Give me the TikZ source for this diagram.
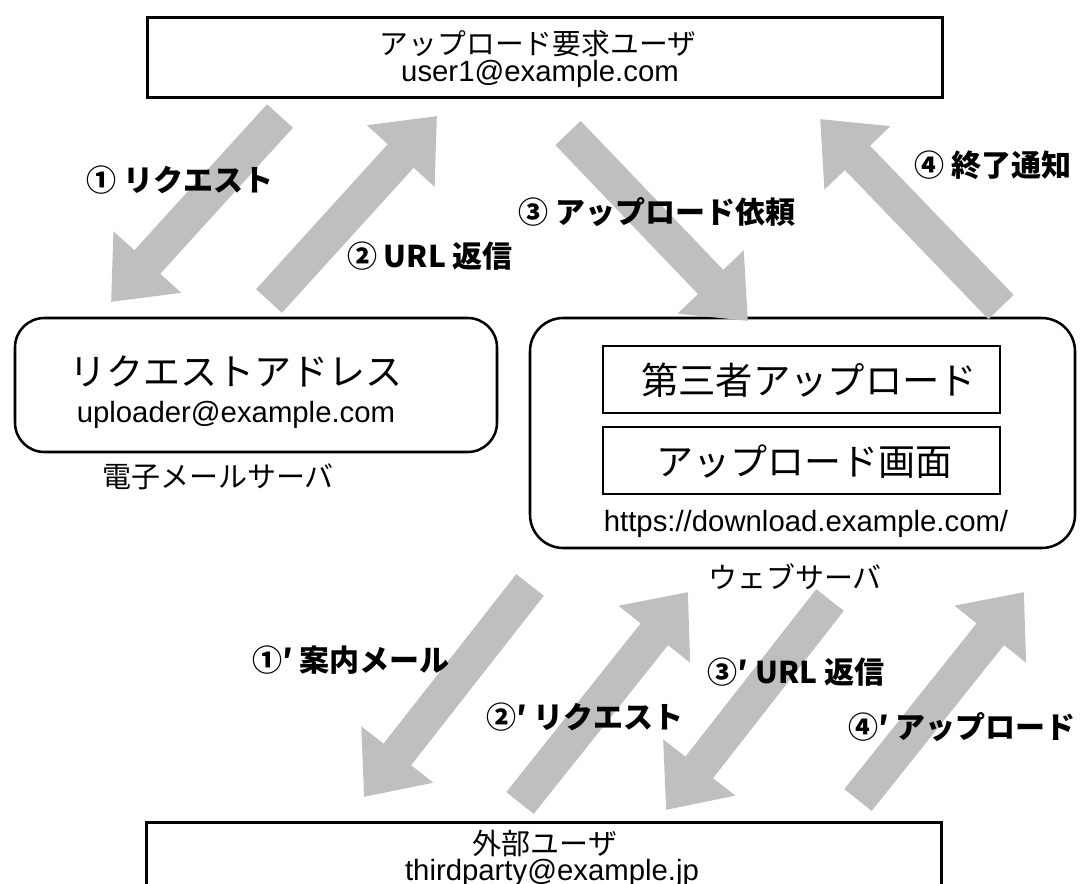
\documentclass[tikz,border=0pt]{standalone}
\usepackage{fontspec}
\setmainfont{Liberation Sans}
\newfontfamily\jp{Noto Sans CJK JP}
\usetikzlibrary{arrows.meta}
\definecolor{arrowgray}{RGB}{191,191,191}
\begin{document}
\begin{tikzpicture}[x=0.75pt,y=-0.75pt,
  bigarrow/.style={draw=arrowgray, line width=26.25pt, -{Triangle[length=40.5pt,width=66pt]}},
  plainbox/.style={draw=black, line width=2.25pt, inner sep=0pt},
  roundbox/.style={draw=black, line width=1.9pt, rounded corners=22pt, inner sep=0pt},
  innerbox/.style={draw=black, line width=1.1pt, inner sep=0pt},
  jptext/.style={font=\jp\fontsize{21.75pt}{26pt}\selectfont, anchor=base, inner sep=0pt},
  jpbig/.style={font=\jp\fontsize{27.75pt}{32pt}\selectfont, anchor=base, inner sep=0pt},
  latintext/.style={font=\fontsize{22pt}{26pt}\selectfont, anchor=base, inner sep=0pt},
  steplabel/.style={font=\jp\bfseries\fontsize{22.5pt}{26pt}\selectfont, inner sep=0pt}
]
\useasboundingbox (0,0) rectangle (1082,884);
\clip (0,0) rectangle (1082,884);
\fill[white] (0,0) rectangle (1082,884);

% boxes
\node[plainbox, minimum width=596.25pt, minimum height=60pt] (requser) at (544.5,57.5) {};
\node[roundbox, minimum width=361.5pt, minimum height=100.5pt] (mailsrv) at (256,385) {};
\node[roundbox, rounded corners=25pt, minimum width=408.75pt, minimum height=172.5pt] (websrv) at (802.5,433) {};
\node[innerbox, minimum width=297.75pt, minimum height=50.25pt] (thirdup) at (801.5,379.5) {};
\node[innerbox, minimum width=297.75pt, minimum height=50.25pt] (upscreen) at (801.5,460.5) {};
\node[plainbox, minimum width=596.25pt, minimum height=75pt] (extuser) at (543.5,872) {};

% texts
\node[jptext, font=\jp\fontsize{21.6pt}{26pt}\selectfont] (requserA) at (538,55) {アップロード要求ユーザ};
\node[latintext] (requserB) at (540,82) {user1@example.com};
\node[jpbig] (mailA) at (236,386) {リクエストアドレス};
\node[latintext] (mailB) at (236,422) {uploader@example.com};
\node[jptext] (mailC) at (218,487) {電子メールサーバ};
\node[jpbig, font=\jp\fontsize{28pt}{32pt}\selectfont] (thirdupT) at (809,394) {第三者アップロード};
\node[jpbig] (upscreenT) at (804,475) {アップロード画面};
\node[latintext] (webB) at (806,531) {https://download.example.com/};
\node[jptext] (webC) at (795,588) {ウェブサーバ};
\node[jptext] (extA) at (545,854) {外部ユーザ};
\node[latintext] (extB) at (552,880) {thirdparty@example.jp};

% arrow end points
\coordinate (a1s) at (280,116); \coordinate (a1e) at (111,302);
\coordinate (a2s) at (269,301); \coordinate (a2e) at (437,116);
\coordinate (a3s) at (568,133); \coordinate (a3e) at (748,321);
\coordinate (a4s) at (1001,307); \coordinate (a4e) at (820,119);
\coordinate (b1s) at (530,585); \coordinate (b1e) at (364,797);
\coordinate (b2s) at (520,803); \coordinate (b2e) at (688,592);
\coordinate (b3s) at (830,600); \coordinate (b3e) at (666,810);
\coordinate (b4s) at (858,800); \coordinate (b4e) at (1024,592);

\draw[bigarrow] (a1s) -- (a1e);
\draw[bigarrow] (a2s) -- (a2e);
\draw[bigarrow] (a3s) -- (a3e);
\draw[bigarrow] (a4s) -- (a4e);
\draw[bigarrow] (b1s) -- (b1e);
\draw[bigarrow] (b2s) -- (b2e);
\draw[bigarrow] (b3s) -- (b3e);
\draw[bigarrow] (b4s) -- (b4e);

% step labels
\node[steplabel] (l1) at (180,180) {① リクエスト};
\node[steplabel] (l2) at (430,256) {② URL 返信};
\node[steplabel] (l3) at (657,212) {③ アップロード依頼};
\node[steplabel] (l4) at (993,165) {④ 終了通知};
\node[steplabel] (m1) at (351,660) {①′ 案内メール};
\node[steplabel] (m2) at (585,717) {②′ リクエスト};
\node[steplabel] (m3) at (796,672) {③′ URL 返信};
\node[steplabel] (m4) at (962,727) {④′ アップロード};
\end{tikzpicture}
\end{document}
